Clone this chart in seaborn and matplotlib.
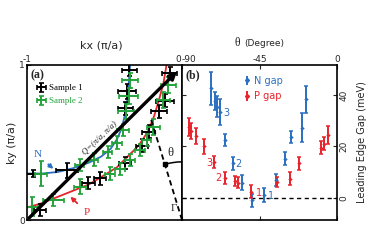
import numpy as np
import pandas as pd
import matplotlib
matplotlib.use('Agg')
import matplotlib.pyplot as plt
from matplotlib.patches import Arc
import seaborn as sns

# ---- panel (a): Fermi surface traces (kx, ky in pi/a) ----
n_kx = [-1.0, -0.9, -0.8, -0.7, -0.6, -0.52, -0.46, -0.42, -0.39, -0.37, -0.355, -0.345, -0.335]
n_ky = [0.30, 0.30, 0.31, 0.335, 0.37, 0.41, 0.46, 0.52, 0.59, 0.67, 0.76, 0.86, 1.0]
p_kx = [-1.0, -0.9, -0.8, -0.7, -0.6, -0.5, -0.42, -0.35, -0.28, -0.22, -0.18, -0.15, -0.12, -0.1]
p_ky = [0.08, 0.11, 0.15, 0.19, 0.23, 0.29, 0.34, 0.41, 0.48, 0.57, 0.67, 0.77, 0.88, 1.0]

# Sample 1 (black crosses)
s1_kx = [-0.96, -0.74, -0.365, -0.355, -0.34, -0.916, -0.604, -0.53, -0.368, -0.26, -0.215, -0.15, -0.11, -0.08]
s1_ky = [0.30, 0.32, 0.72, 0.83, 0.97, 0.065, 0.237, 0.269, 0.366, 0.48, 0.57, 0.70, 0.77, 0.95]
s1_xerr = [0.05, 0.07, 0.05, 0.06, 0.05, 0.04, 0.04, 0.04, 0.04, 0.04, 0.04, 0.05, 0.06, 0.05]
s1_yerr = [0.02, 0.05, 0.04, 0.05, 0.04, 0.04, 0.04, 0.04, 0.04, 0.04, 0.04, 0.04, 0.04, 0.04]

# Sample 2 (green crosses)
s2_kx = [-0.91, -0.66, -0.57, -0.48, -0.42, -0.38, -0.36, -0.345, -0.335,
         -0.97, -0.83, -0.658, -0.465, -0.40, -0.335, -0.271, -0.228, -0.185, -0.12, -0.088]
s2_ky = [0.30, 0.355, 0.39, 0.44, 0.50, 0.58, 0.70, 0.80, 0.90,
         0.086, 0.129, 0.215, 0.30, 0.33, 0.387, 0.452, 0.516, 0.60, 0.774, 0.871]
s2_xerr = [0.04, 0.03, 0.03, 0.03, 0.03, 0.04, 0.05, 0.06, 0.05,
           0.04, 0.07, 0.04, 0.03, 0.03, 0.03, 0.03, 0.03, 0.04, 0.04, 0.05]
s2_yerr = [0.08, 0.04, 0.04, 0.04, 0.04, 0.04, 0.05, 0.05, 0.05,
           0.06, 0.04, 0.05, 0.04, 0.04, 0.04, 0.04, 0.04, 0.05, 0.05, 0.05]

q_vec = ([-1.0, 0.0], [-0.02, 0.97])
gamma_cut = ([0.0, -0.2], [0.0, 0.65])

# ---- panel (b): leading edge gap vs theta ----
n_theta = [-73.0, -71.0, -69.5, -68.1, -65.2, -60.4, -55.0, -49.2, -42.4, -35.2, -30.4, -26.5, -20.1, -17.8]
n_gap = [42.5, 37.5, 35.5, 33.5, 22.5, 13.5, 6.0, -0.8, 1.2, 7.0, 15.2, 23.7, 27.3, 38.3]
n_err = [6.5, 3.5, 4.0, 5.0, 2.5, 2.5, 2.8, 2.5, 2.8, 2.5, 2.5, 2.2, 5.5, 5.2]

p_theta = [-86.0, -84.5, -82.0, -77.0, -71.5, -65.3, -59.0, -57.5, -50.2, -35.0, -27.5, -21.8, -9.3, -7.3, -5.5]
p_gap = [27.5, 26.0, 24.0, 20.0, 14.0, 7.8, 6.5, 6.0, 2.5, 6.3, 7.5, 13.5, 19.5, 21.0, 24.5]
p_err = [3.5, 3.0, 3.0, 3.0, 2.5, 2.5, 2.0, 2.0, 2.5, 2.0, 2.5, 2.5, 2.5, 2.5, 3.5]

# numbered cut labels: (theta, gap, text)
n_tags = [(-64.0, 33.1, '3'), (-57.5, 13.2, '2'), (-38.5, 0.8, '1')]
p_tags = [(-74.1, 13.7, '3'), (-68.9, 7.6, '2'), (-45.1, 2.1, '1')]

BLUE = '#2a6fc0'
RED = '#e8232b'
GREEN = '#23a23a'

sns.set_style('ticks', {'xtick.direction': 'in', 'ytick.direction': 'in',
                        'axes.edgecolor': 'black'})
plt.rcParams['font.family'] = ['DejaVu Sans']
SERIF = ['Liberation Serif', 'DejaVu Serif']

fig = plt.figure(figsize=(3.82, 2.46), dpi=100)
ax1 = fig.add_axes([27 / 382, 1 - 220 / 246, 155 / 382, 155 / 246])
ax2 = fig.add_axes([182 / 382, 1 - 220 / 246, 155 / 382, 155 / 246])

# ---------------- panel (a) ----------------
fs_n = pd.DataFrame({'kx': n_kx, 'ky': n_ky})
fs_p = pd.DataFrame({'kx': p_kx, 'ky': p_ky})
sns.lineplot(data=fs_n, x='kx', y='ky', sort=False, color=BLUE, lw=1.3, ax=ax1)
sns.lineplot(data=fs_p, x='kx', y='ky', sort=False, color=RED, lw=1.3, ax=ax1)

ax1.errorbar(s1_kx, s1_ky, xerr=s1_xerr, yerr=s1_yerr, fmt='none', ecolor='black',
             elinewidth=1.4, capsize=1.8, capthick=1.2, label='Sample 1')
ax1.errorbar(s2_kx, s2_ky, xerr=s2_xerr, yerr=s2_yerr, fmt='none', ecolor=GREEN,
             elinewidth=1.4, capsize=1.8, capthick=1.2, label='Sample 2')

ax1.annotate('', xy=(q_vec[1][0], q_vec[1][1]), xytext=(q_vec[0][0], q_vec[0][1]),
             arrowprops=dict(arrowstyle='-|>', lw=2.4, color='black', mutation_scale=10),
             annotation_clip=False)
ax1.text(-0.53, 0.53, 'Q=(π/a, π/a)', rotation=44, ha='center', va='center',
         fontsize=6.3, family=SERIF, style='italic')

ax1.plot(gamma_cut[0], gamma_cut[1], color='black', ls=(0, (3, 2)), lw=1.3, clip_on=False)
ax1.add_patch(Arc((0, 0), 0.75, 0.75, theta1=90, theta2=107, color='black', lw=1.1))
ax1.plot([-0.11], [0.36], marker='s', ms=2.5, color='black')
ax1.text(-0.075, 0.43, 'θ', fontsize=9, family=SERIF, ha='center', va='center')
ax1.text(-0.055, 0.075, 'Γ', fontsize=8, family=SERIF, ha='center', va='center')

ax1.annotate('N', xy=(-0.83, 0.33), xytext=(-0.93, 0.42), color=BLUE, fontsize=8,
             family=SERIF, ha='center', va='center',
             arrowprops=dict(arrowstyle='-|>', color=BLUE, lw=1.3, mutation_scale=6,
                             shrinkA=3, shrinkB=0))
ax1.annotate('P', xy=(-0.72, 0.15), xytext=(-0.615, 0.05), color=RED, fontsize=8,
             family=SERIF, ha='center', va='center',
             arrowprops=dict(arrowstyle='-|>', color=RED, lw=1.3, mutation_scale=6,
                             shrinkA=3, shrinkB=0))

ax1.text(0.025, 0.975, '(a)', transform=ax1.transAxes, fontsize=8.5, fontweight='bold',
         family=SERIF, ha='left', va='top')
leg1 = ax1.legend(loc='upper left', bbox_to_anchor=(0.04, 0.9), frameon=False,
                  prop={'family': SERIF, 'size': 6.5}, handlelength=1.0,
                  handletextpad=0.3, labelspacing=0.5, borderaxespad=0)
for txt, col in zip(leg1.get_texts(), ['black', GREEN]):
    txt.set_color(col)

ax1.set_xlim(-1, 0)
ax1.set_ylim(0, 1)
ax1.set_xticks([-1, 0])
ax1.set_xticklabels(['-1', ''])
ax1.set_yticks([0, 1])
ax1.set_yticklabels(['0', '1'])
ax1.tick_params(axis='x', top=True, bottom=False, labeltop=True, labelbottom=False,
                labelsize=6.5, pad=1, length=3)
ax1.tick_params(axis='y', left=True, labelsize=6.5, pad=1.5, length=3)
ax1.set_xlabel('')
ax1.set_ylabel('')
for sp in ax1.spines.values():
    sp.set_linewidth(1.2)

# ---------------- panel (b) ----------------
gap_n = pd.DataFrame({'theta': n_theta, 'gap': n_gap})
gap_p = pd.DataFrame({'theta': p_theta, 'gap': p_gap})
ax2.axhline(0, color='black', ls=(0, (3, 2.5)), lw=1.0)
ax2.errorbar(n_theta, n_gap, yerr=n_err, fmt='none', ecolor=BLUE, elinewidth=1.4,
             capsize=1.6, capthick=1.1)
ax2.errorbar(p_theta, p_gap, yerr=p_err, fmt='none', ecolor=RED, elinewidth=1.4,
             capsize=1.6, capthick=1.1)
sns.scatterplot(data=gap_n, x='theta', y='gap', color=BLUE, marker='D', s=4,
                edgecolor=BLUE, ax=ax2, zorder=3)
sns.scatterplot(data=gap_p, x='theta', y='gap', color=RED, marker='D', s=4,
                edgecolor=RED, ax=ax2, zorder=3)

for th, g, t in n_tags:
    ax2.text(th, g, t, color=BLUE, fontsize=7, ha='center', va='center')
for th, g, t in p_tags:
    ax2.text(th, g, t, color=RED, fontsize=7, ha='center', va='center')

h_n = ax2.errorbar([], [], yerr=[], fmt='D', color=BLUE, ms=2, elinewidth=1.4, capsize=1.6)
h_p = ax2.errorbar([], [], yerr=[], fmt='D', color=RED, ms=2, elinewidth=1.4, capsize=1.6)
leg2 = ax2.legend([h_n, h_p], ['N gap', 'P gap'], loc='upper left',
                  bbox_to_anchor=(0.37, 0.955), frameon=False, fontsize=7,
                  handlelength=0.8, handletextpad=0.35, labelspacing=0.55,
                  borderaxespad=0)
for txt, col in zip(leg2.get_texts(), [BLUE, RED]):
    txt.set_color(col)

ax2.text(0.025, 0.975, '(b)', transform=ax2.transAxes, fontsize=8.5, fontweight='bold',
         family=SERIF, ha='left', va='top')

ax2.set_xlim(-90, 0)
ax2.set_ylim(-8.5, 51.6)
ax2.set_xticks([-90, -45, 0])
ax2.set_xticklabels(['', '-45', '0'])
ax2.tick_params(axis='x', top=True, bottom=True, labeltop=True, labelbottom=False,
                labelsize=6.5, pad=1, length=3)
ax2.set_yticks([0, 20, 40])
ax2.yaxis.tick_right()
ax2.yaxis.set_label_position('right')
ax2.tick_params(axis='y', left=True, right=True, labelleft=False, labelright=True,
                labelsize=6.5, pad=2, length=3)
for lab in ax2.get_yticklabels():
    lab.set_rotation(90)
    lab.set_va('center')
ax2.set_xlabel('')
ax2.set_ylabel('Leading Edge Gap (meV)', fontsize=7, labelpad=6)
for sp in ax2.spines.values():
    sp.set_linewidth(1.2)

# shared corner labels "0" | "-90" sit side by side above the joint spine
fig.text(181 / 382, 1 - 59 / 246, '0', fontsize=6.5, ha='right', va='center')
fig.text(182 / 382, 1 - 59 / 246, '-90', fontsize=6.5, ha='left', va='center')

# axis titles above the panels
fig.text(101 / 382, 1 - 46 / 246, 'kx (π/a)', fontsize=8, ha='center', va='center')
fig.text(12 / 382, 1 - 143 / 246, 'ky (π/a)', fontsize=8, rotation=90,
         ha='center', va='center')
fig.text(237 / 382, 1 - 43 / 246, 'θ', fontsize=8.5, family=SERIF, ha='center', va='center')
fig.text(244 / 382, 1 - 43 / 246, '(Degree)', fontsize=6.5, ha='left', va='center')

fig.savefig('out.png', dpi=100)
